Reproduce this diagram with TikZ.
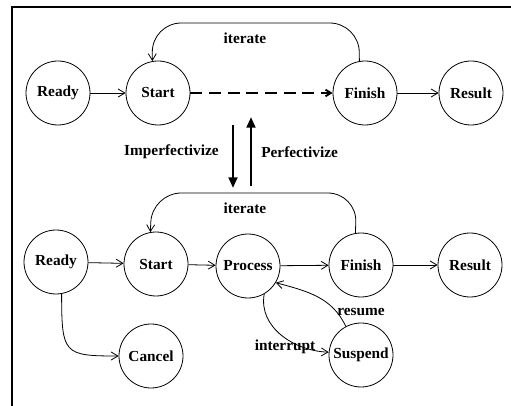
\documentclass[tikz,border=0pt]{standalone}
\usepackage{fontspec}
\setmainfont{Liberation Serif}
\usetikzlibrary{arrows.meta}
\begin{document}
\begin{tikzpicture}[x=0.75pt,y=-0.75pt,
  lblfont/.style={font=\bfseries\fontsize{11.5}{13}\selectfont},
  state/.style={circle,draw,line width=0.6pt,minimum size=48pt,inner sep=0pt,lblfont},
  lbl/.style={lblfont,inner sep=0pt},
  trans/.style={line width=0.6pt,-{Straight Barb[length=5pt,width=6pt]}},
  loopback/.style={trans,rounded corners=22pt},
  aspect/.style={line width=2.2pt,-{Triangle[length=8pt,width=6.5pt]}}]
\useasboundingbox (0,0) rectangle (511,406);
% frame (top and left edges)
\draw[line width=1.6pt] (12,410) -- (12,7) -- (515,7);

% perfective diagram
\node[state] (ready1) at (58,93) {Ready};
\node[state] (start1) at (158,93) {Start};
\node[state] (fin1)   at (365,93) {Finish};
\node[state] (res1)   at (471,93) {Result};
\draw[trans] (ready1) -- (start1);
\draw[trans] (fin1) -- (res1);
\draw[line width=1.4pt,dash pattern=on 9pt off 5pt,-{Straight Barb[length=4pt,width=5pt]}] (start1) -- (fin1);
\draw[loopback] (fin1.100) -- (359,23) -- (152,23) -- (start1.100);
\node[lbl] at (245,38) {iterate};

% aspect change between the two diagrams
\coordinate (impA) at (233,125);
\coordinate (impB) at (233,188);
\coordinate (perA) at (251,186);
\coordinate (perB) at (251,117);
\draw[aspect] (impA) -- (impB);
\draw[aspect] (perA) -- (perB);
\node[lbl,anchor=east] at (219,152) {Imperfectivize};
\node[lbl,anchor=west] at (261,152) {Perfectivize};

% imperfective diagram
\node[state] (ready2) at (56,262) {Ready};
\node[state] (start2) at (156,264) {Start};
\node[state] (proc)   at (248,266) {Process};
\node[state] (fin2)   at (361,265) {Finish};
\node[state] (res2)   at (470,265) {Result};
\node[state] (cancel) at (151,356) {Cancel};
\node[state] (susp)   at (361,355) {Suspend};
\draw[trans] (ready2) -- (start2);
\draw[trans] (start2) -- (proc);
\draw[trans] (proc) -- (fin2);
\draw[trans] (fin2) -- (res2);
\draw[loopback] (fin2.100) -- (357,193) -- (152,193) -- (start2.100);
\node[lbl] at (245,208) {iterate};
\draw[trans] (ready2.-80) .. controls +(0,60) and +(-55,0) .. (cancel.west);
\draw[trans] (proc.-60) to[out=-100,in=178] (susp.175);
\node[lbl] at (285,347) {interrupt};
\draw[trans] (susp.118) to[out=115,in=-15] (proc.-31);
\node[lbl] at (361,312) {resume};
\end{tikzpicture}
\end{document}
